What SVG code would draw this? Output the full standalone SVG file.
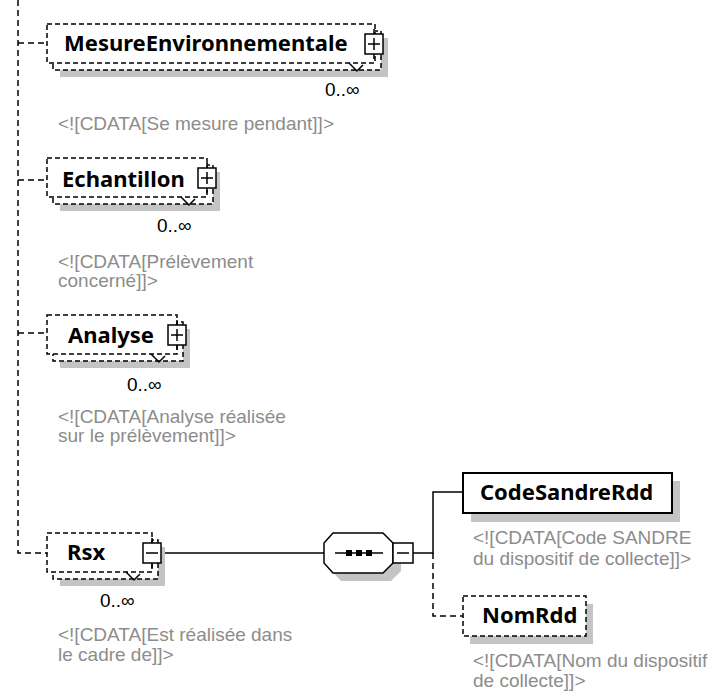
<svg xmlns="http://www.w3.org/2000/svg" width="717" height="693" viewBox="0 0 717 693">
<style>
.bg{fill:#fff}
.sh{fill:#c4c4c4;stroke:none}
.db{fill:#fff;stroke:#000;stroke-width:1.5;stroke-dasharray:5,3}
.sb{fill:#fff;stroke:#000;stroke-width:2}
.ic{fill:#fff;stroke:#000;stroke-width:1.5}
.ln{fill:none;stroke:#000;stroke-width:1.5}
.dl{fill:none;stroke:#000;stroke-width:1.5;stroke-dasharray:6,4}
.t{font-family:"Noto Sans","DejaVu Sans",sans-serif;font-weight:bold;font-size:22px;fill:#000}
.c{font-family:"Liberation Sans",Arial,sans-serif;font-size:19px;fill:#8c8c8c}
.m{font-family:"Liberation Sans",Arial,sans-serif;font-size:19px;fill:#000}
</style>
<rect class="bg" x="0" y="0" width="717" height="693"/>
<g id="connectors">
<path class="dl" d="M18,0 V553 H47"/>
<path class="dl" d="M18,43 H47"/>
<path class="dl" d="M18,180 H47"/>
<path class="dl" d="M18,333 H47"/>
<path class="ln" d="M162,553 H324"/>
<path class="ln" d="M413,553 H433 V492 H463"/>
<path class="dl" d="M433,553 V616 H463"/>
</g>
<g id="MesureEnvironnementale">
<rect class="sh" x="60" y="38" width="328" height="39"/>
<rect class="db" x="53" y="31" width="328" height="39"/>
<rect class="db" x="47" y="24" width="328" height="39"/>
<path class="ln" d="M349,63 L357,71 L363,65"/>
<path class="ln" d="M374,29 V35 M374,53 V59"/>
<rect class="ic" x="365" y="34" width="18" height="20"/>
<path class="ln" d="M368,44 H380 M374,38 V50"/>
<text class="t" x="64" y="51">MesureEnvironnementale</text>
<text class="m" x="325" y="96">0..∞</text>
<text class="c" x="58" y="130">&lt;![CDATA[Se mesure pendant]]&gt;</text>
</g>
<g id="Echantillon">
<rect class="sh" x="60" y="172" width="160" height="39"/>
<rect class="db" x="53" y="165" width="160" height="39"/>
<rect class="db" x="47" y="158" width="160" height="39"/>
<path class="ln" d="M181,197 L189,205 L195,199"/>
<path class="ln" d="M207,163 V169 M207,187 V193"/>
<rect class="ic" x="198" y="168" width="18" height="20"/>
<path class="ln" d="M201,178 H213 M207,172 V184"/>
<text class="t" x="62" y="187">Echantillon</text>
<text class="m" x="157" y="232">0..∞</text>
<text class="c" x="58" y="268">&lt;![CDATA[Prélèvement</text>
<text class="c" x="58" y="287">concerné]]&gt;</text>
</g>
<g id="Analyse">
<rect class="sh" x="60" y="329" width="130" height="39"/>
<rect class="db" x="53" y="322" width="130" height="39"/>
<rect class="db" x="47" y="315" width="130" height="39"/>
<path class="ln" d="M151,354 L159,362 L165,356"/>
<path class="ln" d="M177,320 V326 M177,344 V350"/>
<rect class="ic" x="168" y="325" width="18" height="20"/>
<path class="ln" d="M171,335 H183 M177,329 V341"/>
<text class="t" x="68" y="343">Analyse</text>
<text class="m" x="127" y="391">0..∞</text>
<text class="c" x="58" y="423">&lt;![CDATA[Analyse réalisée</text>
<text class="c" x="58" y="442">sur le prélèvement]]&gt;</text>
</g>
<g id="Rsx">
<rect class="sh" x="60" y="547" width="105" height="39"/>
<rect class="db" x="53" y="540" width="105" height="39"/>
<rect class="db" x="47" y="533" width="105" height="39"/>
<path class="ln" d="M126,572 L134,580 L140,574"/>
<path class="ln" d="M152,538 V544 M152,562 V568"/>
<rect class="ic" x="143" y="543" width="18" height="20"/>
<path class="ln" d="M146,553 H158"/>
<text class="t" x="67" y="560">Rsx</text>
<text class="m" x="100" y="607">0..∞</text>
<text class="c" x="58" y="641">&lt;![CDATA[Est réalisée dans</text>
<text class="c" x="58" y="661">le cadre de]]&gt;</text>
</g>
<g id="sequence">
<polygon class="sh" points="341,541 391,541 401,551 401,571 391,581 341,581 332,571 332,551"/>
<polygon class="ic" points="333,533 383,533 393,543 393,563 383,573 333,573 324,563 324,543"/>
<path class="ln" d="M335,553 H383"/>
<rect x="346" y="550" width="6" height="6" fill="#000"/>
<rect x="356" y="550" width="6" height="6" fill="#000"/>
<rect x="366" y="550" width="6" height="6" fill="#000"/>
<rect class="ic" x="393" y="543" width="20" height="20"/>
<path class="ln" d="M397,553 H409"/>
</g>
<g id="CodeSandreRdd">
<rect class="sh" x="471" y="481" width="209" height="41"/>
<rect class="sb" x="463" y="473" width="209" height="40"/>
<text class="t" x="480" y="500">CodeSandreRdd</text>
<text class="c" x="473" y="544">&lt;![CDATA[Code SANDRE</text>
<text class="c" x="473" y="565">du dispositif de collecte]]&gt;</text>
</g>
<g id="NomRdd">
<rect class="sh" x="470" y="604" width="123" height="40"/>
<rect class="db" x="463" y="596" width="123" height="40"/>
<text class="t" x="482" y="623">NomRdd</text>
<text class="c" x="473" y="667">&lt;![CDATA[Nom du dispositif</text>
<text class="c" x="473" y="687">de collecte]]&gt;</text>
</g>
</svg>
